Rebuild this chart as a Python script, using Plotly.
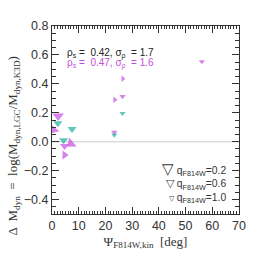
import plotly.graph_objects as go

# Data
mag_x = [2.3, 0.5, 4.7, 7.1, 4.7, 26.5, 26.4, 23.5, 23.3, 56.1]
mag_y = [0.178, 0.084, -0.03, -0.013, -0.092, 0.435, 0.313, 0.29, 0.066, 0.554]
mag_q = [0.2, 0.2, 0.6, 0.2, 0.6, 1.0, 1.0, 1.0, 1.0, 1.0]
mag_ang = [0, 40, 0, 50, -90, -90, 0, -90, 0, 0]

teal_x = [2.2, 7.5, 4.35, 26.4, 23.3]
teal_y = [0.128, 0.088, 0.01, 0.196, 0.047]
teal_q = [0.6, 0.6, 0.6, 1.0, 1.0]
teal_ang = [0, 0, 0, 0, 0]

legend_q = [0.2, 0.6, 1.0]
legend_sym_size = [15, 11, 7]

MAG = "#c44fe0"
TEAL = "#1fae9e"
INK = "#333333"

def qsize(q):
    return {0.2: 10, 0.6: 8, 1.0: 5.5}[q]

fig = go.Figure()
fig.add_trace(go.Scatter(
    x=mag_x, y=mag_y, mode="markers", showlegend=False, hoverinfo="skip",
    marker=dict(symbol="triangle-down", color=MAG, size=[qsize(q) for q in mag_q],
                angle=mag_ang, line=dict(width=0))))
fig.add_trace(go.Scatter(
    x=teal_x, y=teal_y, mode="markers", showlegend=False, hoverinfo="skip",
    marker=dict(symbol="triangle-down", color=TEAL, size=[qsize(q) for q in teal_q],
                angle=teal_ang, line=dict(width=0))))

fig.add_hline(y=0, line=dict(color="#dddddd", width=1.5), layer="below")

fig.add_annotation(xref="paper", yref="paper", x=0.07, y=0.90, xanchor="left",
                   text="ρ<sub>s</sub> =  0.42, σ<sub>ρ</sub>  = 1.7", showarrow=False,
                   font=dict(size=10, color="#222222", family="Liberation Sans"))
fig.add_annotation(xref="paper", yref="paper", x=0.07, y=0.848, xanchor="left",
                   text="ρ<sub>s</sub> =  0.47, σ<sub>ρ</sub>  = 1.6", showarrow=False,
                   font=dict(size=10, color=MAG, family="Liberation Sans"))

# legend built from one multi-line text
lines = []
for q, s in zip(legend_q, legend_sym_size):
    lines.append(f'<span style="font-size:{s}px">▽</span> '
                 f'q<sub>F814W</sub>=%.1f' % q)
fig.add_annotation(xref="paper", yref="paper", x=0.94, y=0.17, xanchor="right",
                   yanchor="middle", align="right", text="<br>".join(lines),
                   showarrow=False,
                   font=dict(size=10.3, color=INK, family="Liberation Sans"))

# y title as rotated annotation
fig.add_annotation(xref="paper", yref="paper", x=-0.207, y=0.36, textangle=-90,
                   xanchor="center", yanchor="middle",
                   text="Δ  M<sub>dyn</sub>  =  log(M<sub>dyn,LGC</sub>/M<sub>dyn,K3D</sub>)",
                   showarrow=False,
                   font=dict(size=13, color=INK, family="Liberation Serif"))

axis_common = dict(showline=True, linecolor=INK, linewidth=1, mirror="allticks",
                   ticks="inside", tickcolor=INK, showgrid=False, zeroline=False,
                   tickfont=dict(size=12.5, color=INK, family="Liberation Sans"))

fig.update_xaxes(range=[0, 70], dtick=10, ticklen=7,
                 minor=dict(dtick=1, ticklen=3, ticks="inside", tickcolor=INK),
                 title=dict(text="Ψ<sub>F814W,kin</sub>  [deg]", standoff=4,
                            font=dict(size=13, color=INK, family="Liberation Serif")),
                 **axis_common)
fig.update_yaxes(range=[-0.5, 0.8], dtick=0.2, tickformat=".1f", ticklen=7,
                 minor=dict(dtick=0.05, ticklen=4, ticks="inside", tickcolor=INK),
                 **axis_common)

fig.update_layout(
    width=258, height=258,
    margin=dict(l=52, r=13, t=26, b=40),
    plot_bgcolor="white", paper_bgcolor="white",
    showlegend=False,
)

fig.write_html("out.html", config={"displayModeBar": False},
               post_script="document.body.style.margin='0';")
